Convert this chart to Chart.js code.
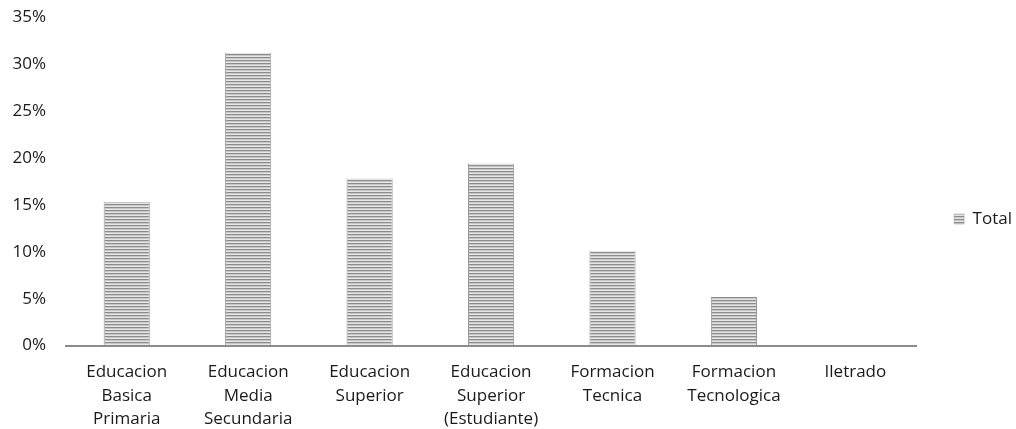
<!DOCTYPE html>
<html>
<head>
<meta charset="utf-8">
<script src="https://cdn.jsdelivr.net/npm/chart.js"></script>
<style>
  html, body { margin: 0; padding: 0; background: #fff; }
  #wrap { width: 1016px; height: 429px; }
</style>
</head>
<body>
<div id="wrap"><canvas id="chart" width="1016" height="429"></canvas></div>
<script>
const categories = [
  ["Educacion", "Basica", "Primaria"],
  ["Educacion", "Media", "Secundaria"],
  ["Educacion", "Superior"],
  ["Educacion", "Superior", "(Estudiante)"],
  ["Formacion", "Tecnica"],
  ["Formacion", "Tecnologica"],
  ["Iletrado"]
];
const totals = [0.153, 0.312, 0.178, 0.194, 0.101, 0.052, 0];
const seriesName = "Total";

// horizontal stripe fill like the original
function stripes() {
  const c = document.createElement("canvas");
  c.width = 4; c.height = 3;
  const g = c.getContext("2d");
  g.fillStyle = "#e6e6e6"; g.fillRect(0, 0, 4, 3);
  g.fillStyle = "#8c8c8c"; g.fillRect(0, 0, 4, 1);
  g.fillStyle = "#c8c8c8"; g.fillRect(0, 1, 4, 1);
  return g.createPattern(c, "repeat");
}
const fill = stripes();

const font = { family: "'Open Sans', 'Noto Sans', sans-serif", size: 17, lineHeight: 1.38 };

new Chart(document.getElementById("chart").getContext("2d"), {
  type: "bar",
  data: {
    labels: categories,
    datasets: [{
      label: seriesName,
      data: totals,
      backgroundColor: fill,
      borderColor: "#9a9a9a",
      borderWidth: { left: 1, right: 1, top: 0, bottom: 0 },
      categoryPercentage: 1,
      barPercentage: 0.38
    }]
  },
  options: {
    responsive: false,
    animation: false,
    layout: { padding: { top: 0, right: -6, bottom: -9, left: 0 } },
    scales: {
      x: {
        grid: { display: false },
        border: { color: "#8c8c8c", width: 2 },
        ticks: { color: "#1a1a1a", font: font, padding: 7, maxRotation: 0, autoSkip: false }
      },
      y: {
        min: 0,
        max: 0.35,
        grid: { display: false },
        border: { display: false },
        ticks: {
          stepSize: 0.05,
          color: "#1a1a1a",
          font: font,
          padding: 12,
          callback: (v) => Math.round(v * 100) + "%"
        },
        afterFit: (s) => { s.width = 66; s.paddingTop = 17; }
      }
    },
    plugins: {
      legend: {
        position: "right",
        labels: { boxWidth: 10, boxHeight: 10, font: font, color: "#1a1a1a", padding: 38 }
      },
      tooltip: { enabled: false }
    }
  }
});
</script>
</body>
</html>
